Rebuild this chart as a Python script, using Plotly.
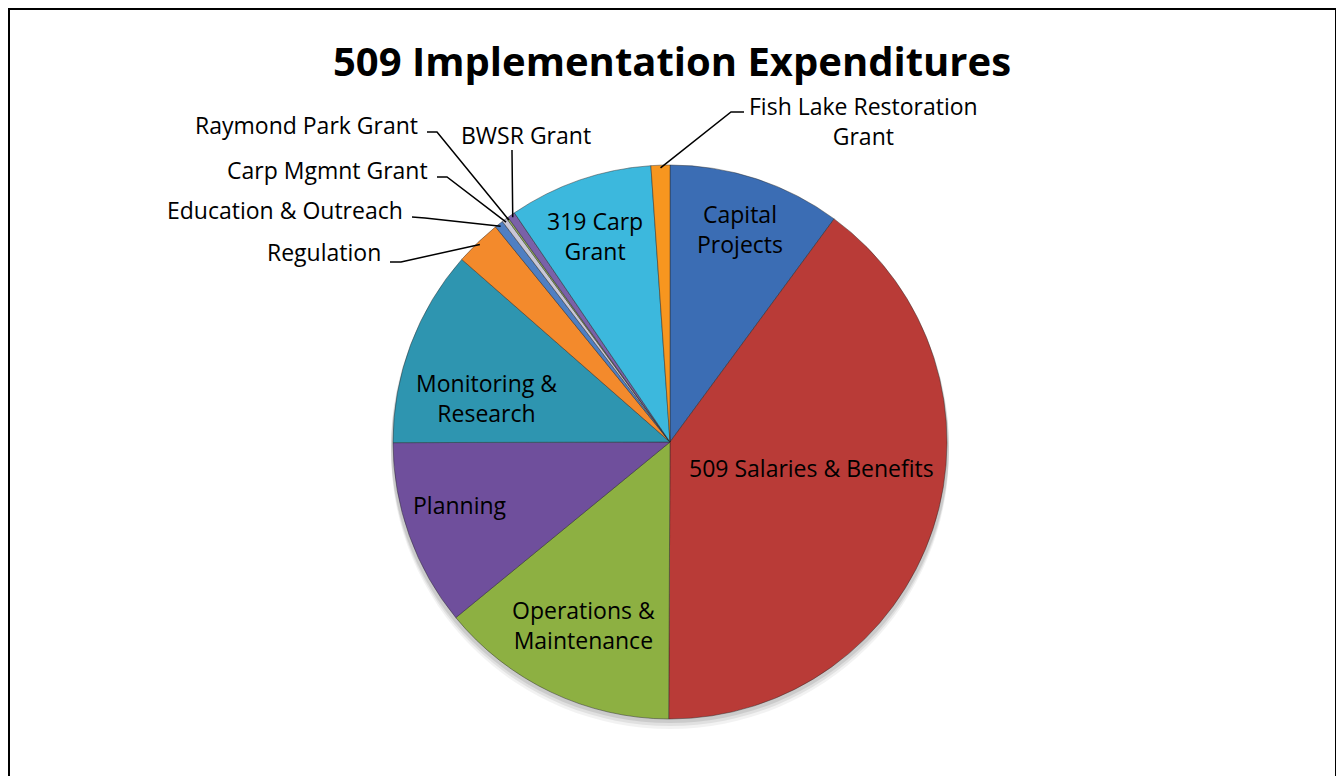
import math
import plotly.graph_objects as go

# slice data, clockwise from 12 o'clock
labels = [
    "Capital Projects",
    "509 Salaries & Benefits",
    "Operations & Maintenance",
    "Planning",
    "Monitoring & Research",
    "Regulation",
    "Education & Outreach",
    "Carp Mgmnt Grant",
    "Raymond Park Grant",
    "BWSR Grant",
    "319 Carp Grant",
    "Fish Lake Restoration Grant",
]
values = [10.1, 40.0, 14.0, 10.9, 11.5, 2.7, 0.5, 0.3, 0.1, 0.45, 8.4, 1.1]
colors = [
    "#3b6db4", "#b93b37", "#8db042", "#6f4f9c", "#2e95b0", "#f38a2c",
    "#4f7fc2", "#c9c7d6", "#95b55a", "#7a61a8", "#3cb8dd", "#f7961f",
]

# the page body has an 8px margin, so the figure is 16px smaller than the window
OFF = 8
FW, FH = 1344 - 2 * OFF, 784 - 2 * OFF
CX, CY, R = 670, 442, 277  # pie centre and radius in page pixels

FONT = "Open Sans"
LABEL_SIZE = 23


def to_paper(x, y):
    return (x - OFF) / FW, 1 - (y - OFF) / FH


total = sum(values)
mid_angle = {}
acc = 0.0
for lab, v in zip(labels, values):
    mid_angle[lab] = 360.0 * (acc + v / 2) / total
    acc += v


def on_pie(label, frac, nudge=0.0):
    a = math.radians(mid_angle[label] + nudge)
    return CX + frac * R * math.sin(a), CY - frac * R * math.cos(a)


def text_note(x, y, txt, size=LABEL_SIZE, xanchor="center", bold=False):
    px_, py_ = to_paper(x, y)
    return dict(
        x=px_, y=py_, xref="paper", yref="paper",
        text=f"<b>{txt}</b>" if bold else txt, showarrow=False,
        xanchor=xanchor, yanchor="middle", align="center",
        font=dict(family=FONT, size=size, color="black"),
    )


def leader(points):
    pts = [to_paper(*p) for p in points]
    path = "M " + " L ".join(f"{x} {y}" for x, y in pts)
    return dict(type="path", path=path, xref="paper", yref="paper",
                line=dict(color="black", width=1.5))


x0d, _ = to_paper(CX - R, 0)
x1d, _ = to_paper(CX + R, 0)
_, y0d = to_paper(0, CY + R)
_, y1d = to_paper(0, CY - R)

fig = go.Figure(
    go.Pie(
        labels=labels,
        values=values,
        sort=False,
        direction="clockwise",
        rotation=0,
        textinfo="none",
        hoverinfo="label+percent",
        marker=dict(colors=colors, line=dict(color="rgba(40,40,40,0.45)", width=1)),
        domain=dict(x=[x0d, x1d], y=[y0d, y1d]),
        showlegend=False,
    )
)

# labels drawn inside the big slices: (radius fraction, angle nudge, text)
inside = {
    "Capital Projects": (0.81, 0, "Capital<br>Projects"),
    "509 Salaries & Benefits": (0.52, -8, "509 Salaries & Benefits"),
    "Operations & Maintenance": (0.73, 0, "Operations &<br>Maintenance"),
    "Planning": (0.79, 3, "Planning"),
    "Monitoring & Research": (0.68, -7, "Monitoring &<br>Research"),
    "319 Carp Grant": (0.79, -1, "319 Carp<br>Grant"),
}
annotations = []
for lab, (frac, nudge, txt) in inside.items():
    x, y = on_pie(lab, frac, nudge)
    annotations.append(text_note(x, y, txt))

# leader-line labels for the thin slices: text anchor, line start, elbow
outside = [
    ("Regulation", (383, 252), "right", (390, 262), (401, 262)),
    ("Education & Outreach", (405, 210), "right", (412, 217), (425, 218)),
    ("Carp Mgmnt Grant", (430, 170), "right", (437, 177), (447, 177)),
    ("Raymond Park Grant", (420, 125), "right", (427, 132), (437, 132)),
    ("BWSR Grant", (526, 135), "center", (512, 150), (512, 152)),
]
shapes = []
for lab, (tx, ty), anchor, start, elbow in outside:
    annotations.append(text_note(tx, ty, lab, xanchor=anchor))
    shapes.append(leader([start, elbow, on_pie(lab, 0.99)]))

# Fish Lake label sits to the upper right
annotations.append(text_note(863, 121, "Fish Lake Restoration<br>Grant"))
shapes.append(leader([(744, 112), (731, 112), on_pie("Fish Lake Restoration Grant", 0.99)]))

# soft shadow under the pie
for off, op in [(10, 0.05), (7, 0.07), (4, 0.09)]:
    sx0, sy0 = to_paper(CX - R - 2, CY - R + off)
    sx1, sy1 = to_paper(CX + R + 2, CY + R + off)
    shapes.append(dict(type="circle", xref="paper", yref="paper", layer="below",
                       x0=sx0, x1=sx1, y0=sy1, y1=sy0,
                       fillcolor=f"rgba(0,0,0,{op})", line=dict(width=0)))

# chart border
bx0, by0 = to_paper(9, 9)
bx1, by1 = to_paper(1336, 800)
shapes.append(dict(type="rect", xref="paper", yref="paper",
                   x0=bx0, x1=bx1, y0=by1, y1=by0,
                   line=dict(color="black", width=2), fillcolor="rgba(0,0,0,0)"))

annotations.append(text_note(672, 60, "509 Implementation Expenditures", size=40, bold=True))

fig.update_layout(
    width=FW, height=FH,
    margin=dict(l=0, r=0, t=0, b=0),
    paper_bgcolor="white",
    plot_bgcolor="white",
    annotations=annotations,
    shapes=shapes,
)

fig.write_html("out.html")
